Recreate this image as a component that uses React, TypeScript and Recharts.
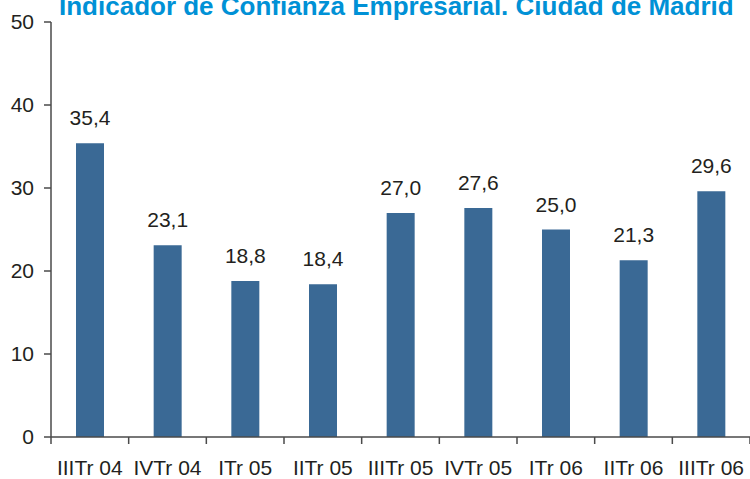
import React from 'react';
import { BarChart, Bar, XAxis, YAxis, LabelList } from 'recharts';

const quarters = ['IIITr 04', 'IVTr 04', 'ITr 05', 'IITr 05', 'IIITr 05', 'IVTr 05', 'ITr 06', 'IITr 06', 'IIITr 06'];
const indicator = [35.4, 23.1, 18.8, 18.4, 27.0, 27.6, 25.0, 21.3, 29.6];
const yTicks = [0, 10, 20, 30, 40, 50];
const boundaryTicks = [0, 1, 2, 3, 4, 5, 6, 7, 8, 9];

const data = quarters.map((q, i) => ({ name: q, value: indicator[i], pos: i + 0.5 }));

const font = '"Liberation Sans", Arial, Helvetica, sans-serif';
const textColor = '#231f20';
const axisColor = '#4a4a4a';

const fmt = (v: any) => Number(v).toFixed(1).replace('.', ',');

export default function App() {
  return (
    <div style={{ position: 'absolute', left: 0, top: 0, width: 750, height: 479, background: '#fff', fontFamily: font, overflow: 'hidden' }}>
      <BarChart
        width={750}
        height={479}
        data={data}
        margin={{ top: 22, right: 0, left: 0, bottom: 0 }}
        barCategoryGap={0}
      >
        <XAxis
          xAxisId='a_grid'
          dataKey='pos'
          type='number'
          domain={[0, 9]}
          ticks={boundaryTicks}
          allowDataOverflow
          height={8}
          tickLine={{ stroke: axisColor, strokeWidth: 1.5 }}
          tickSize={7}
          axisLine={{ stroke: axisColor, strokeWidth: 1.5 }}
          tickFormatter={() => ''}
        />
        <XAxis
          xAxisId='b_cat'
          dataKey='name'
          height={34}
          axisLine={false}
          tickLine={false}
          interval={0}
          tick={{ fill: textColor, fontSize: 21, fontFamily: font }}
          tickMargin={9}
        />
        <YAxis
          domain={[0, 50]}
          ticks={yTicks}
          width={51}
          interval={0}
          axisLine={{ stroke: axisColor, strokeWidth: 1.5 }}
          tickLine={{ stroke: axisColor, strokeWidth: 1.5 }}
          tickSize={7}
          tickMargin={10}
          tick={{ fill: textColor, fontSize: 21, fontFamily: font }}
        />
        <Bar xAxisId='b_cat' dataKey='value' fill='#3a6995' barSize={28} isAnimationActive={false}>
          <LabelList
            dataKey='value'
            position='top'
            offset={18}
            formatter={fmt}
            style={{ fill: textColor, fontSize: 21, fontFamily: font }}
          />
        </Bar>
      </BarChart>
      <div
        style={{
          position: 'absolute',
          left: 59,
          top: -7,
          fontSize: 26,
          lineHeight: '26px',
          fontWeight: 'bold',
          color: '#0091d6',
          whiteSpace: 'nowrap',
          fontFamily: font,
        }}
      >
        Indicador de Confianza Empresarial. Ciudad de Madrid
      </div>
    </div>
  );
}
